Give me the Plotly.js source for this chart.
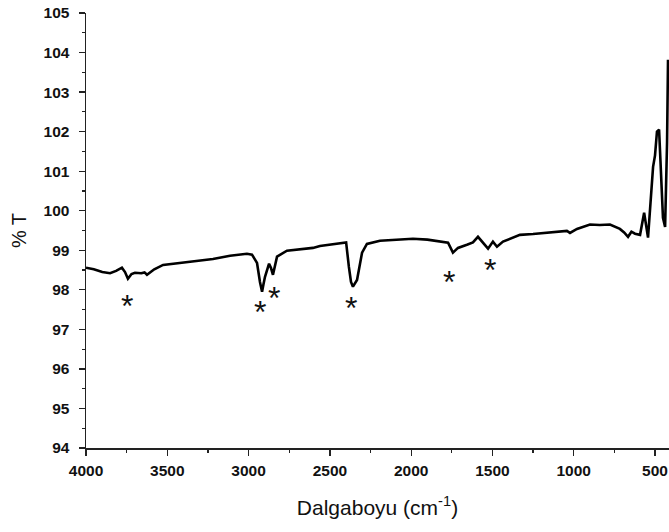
<!DOCTYPE html>
<html>
<head>
<meta charset="utf-8">
<script src="https://cdn.plot.ly/plotly-3.0.1.min.js"></script>
<style>html,body{margin:0;padding:0;background:#fff;overflow:hidden}</style>
</head>
<body>
<div id="chart" style="width:669px;height:532px"></div>
<script>
const wavenumber = [4000, 3952, 3900, 3852, 3815, 3779, 3760, 3742, 3720, 3699, 3660, 3640, 3625, 3580, 3526, 3470, 3422, 3320, 3219, 3114, 3060, 3010, 2979, 2948, 2930, 2917, 2908, 2899, 2874, 2862, 2850, 2838, 2825, 2764, 2700, 2604, 2561, 2480, 2420, 2400, 2383, 2370, 2358, 2333, 2302, 2272, 2192, 2100, 1989, 1900, 1804, 1773, 1743, 1712, 1657, 1620, 1589, 1564, 1527, 1497, 1472, 1435, 1380, 1331, 1250, 1165, 1100, 1042, 1023, 980, 900, 840, 777, 716, 690, 666, 645, 623, 592, 567, 543, 525, 512, 500, 488, 475, 463, 451, 438, 426, 420];
const transmittance = [98.56, 98.52, 98.45, 98.42, 98.48, 98.56, 98.45, 98.28, 98.4, 98.43, 98.42, 98.44, 98.38, 98.52, 98.63, 98.66, 98.68, 98.73, 98.78, 98.86, 98.88, 98.91, 98.89, 98.68, 98.2, 97.95, 98.15, 98.33, 98.66, 98.55, 98.38, 98.6, 98.84, 98.99, 99.02, 99.06, 99.11, 99.15, 99.19, 99.2, 98.58, 98.2, 98.08, 98.25, 98.94, 99.16, 99.24, 99.26, 99.29, 99.27, 99.22, 99.19, 98.94, 99.06, 99.14, 99.2, 99.34, 99.22, 99.04, 99.22, 99.09, 99.22, 99.3, 99.39, 99.41, 99.44, 99.46, 99.49, 99.44, 99.54, 99.65, 99.64, 99.65, 99.54, 99.45, 99.34, 99.47, 99.42, 99.39, 99.95, 99.32, 100.3, 101.11, 101.4, 102.0, 102.05, 100.78, 99.82, 99.59, 101.72, 103.82];
const starWavenumber = [3748, 2930, 2844, 2370, 1767, 1515];
const starY = [97.8, 97.65, 98.0, 97.75, 98.4, 98.71];
const xTickVals = [4000, 3500, 3000, 2500, 2000, 1500, 1000, 500];
const yTickVals = [94, 95, 96, 97, 98, 99, 100, 101, 102, 103, 104, 105];

const fam = 'Liberation Sans, Arial, sans-serif';
const tickFont = {family: fam, size: 15.5, color: '#111'};

const annotations = starWavenumber.map((w, i) => ({
  x: w, y: starY[i], xref: 'x', yref: 'y', text: '*', showarrow: false,
  font: {family: fam, size: 32, color: '#111'},
  xanchor: 'center', yanchor: 'middle', yshift: -8
}));

Plotly.newPlot('chart', [{
  x: wavenumber, y: transmittance, type: 'scatter', mode: 'lines',
  line: {color: '#000', width: 2.6}, hoverinfo: 'skip', cliponaxis: true
}], {
  width: 669, height: 532,
  margin: {l: 86, r: 0, t: 13, b: 84},
  paper_bgcolor: '#fff', plot_bgcolor: '#fff',
  showlegend: false,
  annotations: annotations,
  xaxis: {
    range: [4000, 414], tickvals: xTickVals, ticktext: xTickVals.map(v => '<b>' + v + '</b>'),
    showgrid: false, zeroline: false, showline: true, linecolor: '#222', linewidth: 1.5,
    ticks: 'outside', ticklen: 6, tickwidth: 1.3, tickcolor: '#222',
    minor: {dtick: 250, ticks: 'outside', ticklen: 3, tickwidth: 1.2, tickcolor: '#222', showgrid: false},
    tickfont: tickFont, ticklabelstandoff: 2,
    title: {text: 'Dalgaboyu (cm<sup>-1</sup>)', font: {family: fam, size: 21, color: '#111'}, standoff: 22}
  },
  yaxis: {
    range: [94, 105], tickvals: yTickVals, ticktext: yTickVals.map(v => '<b>' + v + '</b>'),
    showgrid: false, zeroline: false, showline: true, linecolor: '#222', linewidth: 1.5,
    ticks: 'outside', ticklen: 6, tickwidth: 1.3, tickcolor: '#222',
    minor: {dtick: 0.5, ticks: 'outside', ticklen: 3, tickwidth: 1.2, tickcolor: '#222', showgrid: false},
    tickfont: tickFont, ticklabelstandoff: 6,
    title: {text: '% T', font: {family: fam, size: 20, color: '#111'}, standoff: 11}
  }
}, {staticPlot: true, displayModeBar: false});
</script>
</body>
</html>
